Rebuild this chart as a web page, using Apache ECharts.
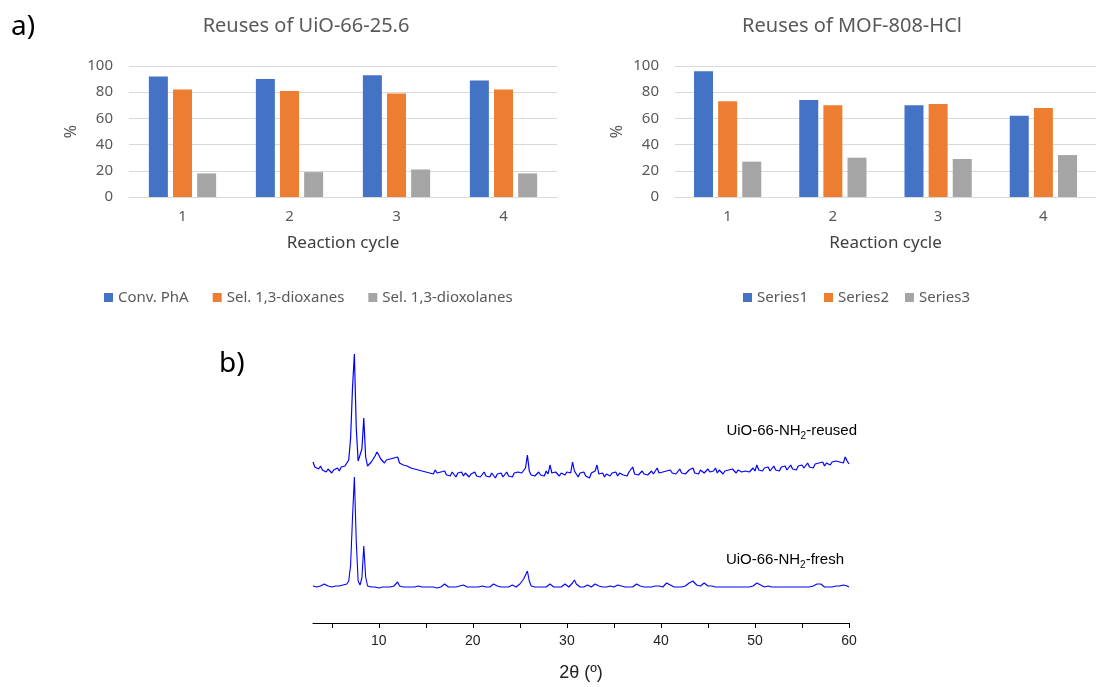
<!DOCTYPE html>
<html>
<head>
<meta charset="utf-8">
<title>Reuses and XRD</title>
<script src="https://cdn.jsdelivr.net/npm/echarts@6/dist/echarts.min.js"></script>
<style>
	html, body {margin: 0; padding: 0; background: #fff;}
	#main {width: 1096px; height: 687px;}
</style>
</head>
<body>
<div id="main"></div>
<script type="text/javascript">
// reaction cycles (both bar charts)
var cycles = ['1', '2', '3', '4'];

// a) left: UiO-66-25.6
var uioNames = ['Conv. PhA', 'Sel. 1,3-dioxanes', 'Sel. 1,3-dioxolanes'];
var uioConv = [92, 90, 93, 89];
var uioDioxanes = [82, 81, 79, 82];
var uioDioxolanes = [18, 19, 21, 18];

// a) right: MOF-808-HCl
var mofNames = ['Series1', 'Series2', 'Series3'];
var mofSeries1 = [96, 74, 70, 62];
var mofSeries2 = [73, 70, 71, 68];
var mofSeries3 = [27, 30, 29, 32];

var yTicks = [0, 20, 40, 60, 80, 100];

// b) XRD, 2theta from 3 to 60 deg, step 0.2 (intensity in arbitrary units, patterns offset)
var thetaStart = 3;
var thetaStep = 0.2;
var xrdTicks = [5, 10, 15, 20, 25, 30, 35, 40, 45, 50, 55, 60];
var xrdLabels = [10, 20, 30, 40, 50, 60];

var reusedCounts = [
	161,156,158,154,157,153,155,151,154,152,
	150,153,151,155,152,156,154,157,158,163,
	185,235,269,195,162,160,174,205,166,157,
	158,161,164,167,171,168,164,162,160,163,
	161,164,162,165,163,166,160,162,158,160,
	157,159,155,157,154,156,153,155,152,154,
	151,153,150,152,149,153,150,148,151,149,
	152,148,150,147,151,149,146,150,148,151,
	147,150,152,146,149,148,151,147,149,146,
	148,151,147,149,146,150,148,145,149,147,
	150,146,148,151,147,149,146,150,148,151,
	149,150,152,155,168,152,148,150,147,149,
	151,148,150,147,152,149,158,150,148,151,
	149,147,150,152,148,151,149,150,161,152,
	149,146,150,148,151,147,149,145,150,148,
	152,158,149,147,150,146,149,151,147,150,
	148,151,147,150,152,148,150,147,151,149,
	156,149,151,148,150,152,149,151,148,150,
	152,149,151,155,150,148,151,149,152,150,
	153,150,152,149,151,154,150,152,149,151,
	153,151,155,150,152,149,153,151,150,152,
	154,151,149,152,155,150,153,151,149,152,
	150,153,151,154,152,150,153,155,151,153,
	152,154,151,153,155,152,158,153,154,152,
	155,153,156,152,154,157,153,155,152,156,
	154,157,153,155,158,154,156,153,157,155,
	158,155,157,160,156,158,155,159,157,160,
	158,161,157,160,162,158,161,159,162,160,
	161,163,160,166,162,
	159
];

var freshCounts = [
	37,36,36,36,37,38,39,38,37,36,
	36,36,37,36,37,37,38,38,39,42,
	58,105,146,82,42,38,45,77,46,37,
	36,36,35,36,36,35,36,36,35,36,
	36,36,36,37,38,41,37,36,36,35,
	36,35,36,36,36,38,37,36,36,38,
	36,35,36,35,36,36,35,36,36,37,
	39,37,36,35,36,36,36,35,37,38,
	38,36,36,35,36,36,36,37,36,36,
	37,36,36,36,36,36,39,39,37,36,
	36,36,36,36,36,37,38,37,36,37,
	39,41,44,48,52,42,37,36,36,36,
	36,36,36,36,36,36,39,37,36,36,
	36,36,36,37,39,37,36,37,40,43,
	39,37,36,36,36,36,38,37,36,36,
	39,41,37,36,36,36,36,38,37,36,
	36,36,38,40,37,36,36,36,36,36,
	36,37,39,40,37,36,36,36,36,36,
	36,36,37,39,37,36,36,38,40,41,
	38,36,36,36,36,36,36,37,37,38,
	40,42,42,41,38,37,37,39,40,38,
	37,38,37,36,36,36,36,36,36,36,
	36,36,36,36,36,36,36,36,36,37,
	36,36,36,36,37,38,40,41,38,36,
	36,36,37,36,36,38,36,36,36,36,
	36,36,36,36,36,36,36,37,36,36,
	36,37,36,36,36,36,37,38,39,41,
	39,37,36,36,36,37,36,37,37,38,
	37,38,38,37,37,
	36
];

var colors = ['#4472C4', '#ED7D31', '#A5A5A5'];

function toPairs(arr) {
	return arr.map(function(v, i) {
		return [+(thetaStart + i * thetaStep).toFixed(1), v];
	});
}

function barSeries(name, data, idx, colorIdx) {
	return {
		name: name,
		type: 'bar',
		xAxisIndex: idx,
		yAxisIndex: idx,
		data: data,
		barWidth: 19,
		barGap: '27%',
		itemStyle: {color: colors[colorIdx]}
	};
}

function cycleAxis(idx) {
	return {
		type: 'category',
		gridIndex: idx,
		data: cycles,
		axisLine: {lineStyle: {color: '#D9D9D9', width: 1}},
		axisTick: {show: false},
		axisLabel: {color: '#595959', fontSize: 15, margin: 12, fontFamily: 'Noto Sans'},
		name: 'Reaction cycle',
		nameLocation: 'middle',
		nameGap: 38,
		nameTextStyle: {color: '#404040', fontSize: 17, fontFamily: 'Noto Sans'}
	};
}

function percentAxis(idx) {
	return {
		type: 'value',
		gridIndex: idx,
		min: yTicks[0],
		max: yTicks[yTicks.length - 1],
		interval: yTicks[1] - yTicks[0],
		axisLine: {show: false},
		axisTick: {show: false},
		splitLine: {lineStyle: {color: '#D9D9D9', width: 1}},
		axisLabel: {color: '#595959', fontSize: 15, margin: 16, fontFamily: 'Noto Sans'},
		name: '%',
		nameLocation: 'middle',
		nameRotate: 90,
		nameGap: 50,
		nameTextStyle: {color: '#595959', fontSize: 16, fontFamily: 'Noto Sans'}
	};
}

var labelRich = {
	a: {fontSize: 15, fontFamily: 'Liberation Sans', color: '#1a1a1a'},
	s: {fontSize: 10, fontFamily: 'Liberation Sans', color: '#1a1a1a', padding: [12, 0, 0, 0]}
};

var option = {
	animation: false,
	backgroundColor: '#fff',
	title: [{
		text: 'Reuses of UiO-66-25.6',
		left: 306,
		top: 16,
		padding: 0,
		textAlign: 'center',
		textStyle: {color: '#595959', fontSize: 20, fontWeight: 'normal', fontFamily: 'Noto Sans'}
	}, {
		text: 'Reuses of MOF-808-HCl',
		left: 852,
		top: 16,
		padding: 0,
		textAlign: 'center',
		textStyle: {color: '#595959', fontSize: 20, fontWeight: 'normal', fontFamily: 'Noto Sans'}
	}],
	legend: [{
		data: uioNames,
		left: 104,
		top: 290,
		padding: 0,
		icon: 'rect',
		itemWidth: 9,
		itemHeight: 9,
		itemGap: 24,
		textStyle: {color: '#595959', fontSize: 15, fontFamily: 'Noto Sans'}
	}, {
		data: mofNames,
		left: 743,
		top: 290,
		padding: 0,
		icon: 'rect',
		itemWidth: 9,
		itemHeight: 9,
		itemGap: 16,
		textStyle: {color: '#595959', fontSize: 15, fontFamily: 'Noto Sans'}
	}],
	grid: [
		{left: 129, top: 66, width: 428, height: 131},
		{left: 675, top: 66, width: 428, height: 131},
		{left: 313, top: 343, width: 536, height: 280}
	],
	xAxis: [
		cycleAxis(0),
		cycleAxis(1),
		{
			type: 'value',
			gridIndex: 2,
			min: 3,
			max: 60,
			axisLine: {lineStyle: {color: '#000', width: 1}},
			axisTick: {show: true, inside: false, length: 5, customValues: xrdTicks, lineStyle: {color: '#000'}},
			axisLabel: {customValues: xrdLabels, color: '#222', fontSize: 14, margin: 11, fontFamily: 'Liberation Sans'},
			splitLine: {show: false},
			name: '2θ (º)',
			nameLocation: 'middle',
			nameGap: 41,
			nameTextStyle: {color: '#222', fontSize: 18, fontFamily: 'Liberation Sans'}
		}
	],
	yAxis: [
		percentAxis(0),
		percentAxis(1),
		{type: 'value', gridIndex: 2, min: 0, max: 280, show: false}
	],
	graphic: [{
		type: 'text',
		left: 11,
		top: 13,
		style: {text: 'a)', fontSize: 28, fontFamily: 'Noto Sans', fill: '#000'}
	}, {
		type: 'text',
		left: 219,
		top: 350,
		style: {text: 'b)', fontSize: 28, fontFamily: 'Noto Sans', fill: '#000'}
	}, {
		type: 'text',
		right: 1096 - 857,
		top: 423,
		style: {text: '{a|UiO-66-NH}{s|2}{a|-reused}', rich: labelRich}
	}, {
		type: 'text',
		right: 1096 - 844,
		top: 552,
		style: {text: '{a|UiO-66-NH}{s|2}{a|-fresh}', rich: labelRich}
	}],
	series: [
		barSeries(uioNames[0], uioConv, 0, 0),
		barSeries(uioNames[1], uioDioxanes, 0, 1),
		barSeries(uioNames[2], uioDioxolanes, 0, 2),
		barSeries(mofNames[0], mofSeries1, 1, 0),
		barSeries(mofNames[1], mofSeries2, 1, 1),
		barSeries(mofNames[2], mofSeries3, 1, 2),
		{
			name: 'UiO-66-NH2-reused',
			type: 'line',
			xAxisIndex: 2,
			yAxisIndex: 2,
			data: toPairs(reusedCounts),
			showSymbol: false,
			silent: true,
			lineStyle: {color: '#0000ff', width: 1.2}
		},
		{
			name: 'UiO-66-NH2-fresh',
			type: 'line',
			xAxisIndex: 2,
			yAxisIndex: 2,
			data: toPairs(freshCounts),
			showSymbol: false,
			silent: true,
			lineStyle: {color: '#0000ff', width: 1.1}
		}
	]
};

var myChart = echarts.init(document.getElementById('main'));
myChart.setOption(option);
</script>
</body>
</html>
